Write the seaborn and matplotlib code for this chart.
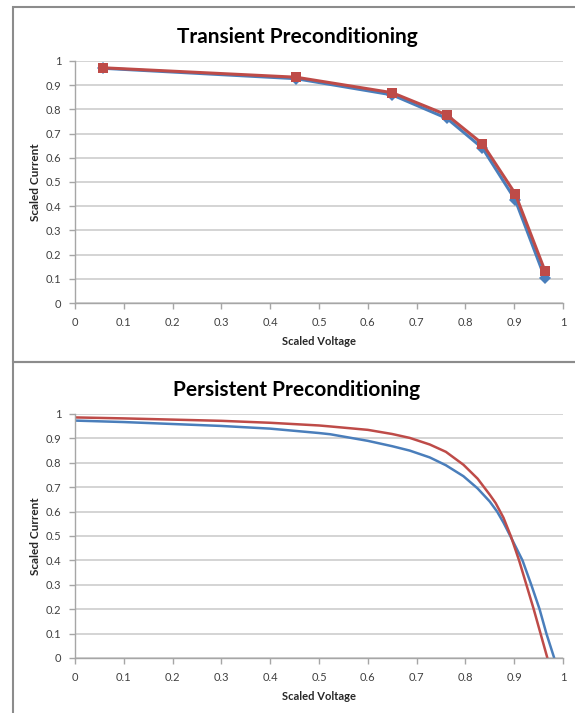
import numpy as np
import pandas as pd
import matplotlib
matplotlib.use("Agg")
import matplotlib.pyplot as plt
import seaborn as sns
from matplotlib.patches import Rectangle

# ---- data ----
trans_x = [0.057, 0.453, 0.650, 0.762, 0.835, 0.902, 0.963]
trans_blue = [0.970, 0.927, 0.860, 0.763, 0.640, 0.427, 0.103]
trans_red = [0.972, 0.933, 0.869, 0.777, 0.658, 0.452, 0.133]

pers_blue_x = [0.0, 0.1, 0.2, 0.3, 0.4, 0.5, 0.523, 0.6, 0.65, 0.686, 0.727,
               0.76, 0.796, 0.825, 0.85, 0.865, 0.878, 0.892, 0.917, 0.935,
               0.952, 0.966, 0.982]
pers_blue_y = [0.973, 0.967, 0.959, 0.951, 0.940, 0.922, 0.917, 0.890, 0.868,
               0.850, 0.822, 0.790, 0.745, 0.695, 0.641, 0.600, 0.555, 0.500,
               0.400, 0.300, 0.200, 0.100, 0.0]
pers_red_x = [0.0, 0.1, 0.2, 0.3, 0.4, 0.5, 0.523, 0.6, 0.65, 0.686, 0.727,
              0.76, 0.796, 0.825, 0.85, 0.862, 0.878, 0.893, 0.910, 0.925,
              0.940, 0.954, 0.968]
pers_red_y = [0.986, 0.982, 0.977, 0.972, 0.964, 0.953, 0.949, 0.935, 0.918,
              0.902, 0.875, 0.845, 0.792, 0.735, 0.669, 0.635, 0.575, 0.500,
              0.400, 0.300, 0.200, 0.100, 0.0]

ticks = [0, 0.1, 0.2, 0.3, 0.4, 0.5, 0.6, 0.7, 0.8, 0.9, 1]
tick_labels = ["0", "0.1", "0.2", "0.3", "0.4", "0.5", "0.6", "0.7", "0.8", "0.9", "1"]

BLUE = "#4A7EBB"
RED = "#BE4B48"

sns.set_theme(style="white")
plt.rcParams["font.family"] = ["Lato", "DejaVu Sans"]

fig = plt.figure(figsize=(5.75, 7.13), dpi=100)

# panel frames
fig.patches.append(Rectangle((13 / 575, 1 - 362 / 713), 1.0, (362 - 7) / 713,
                             transform=fig.transFigure, fill=False,
                             edgecolor="#8c8c8c", linewidth=1.5, zorder=0))
fig.patches.append(Rectangle((13 / 575, -0.01), 1.0, 1 - 362 / 713 + 0.01,
                             transform=fig.transFigure, fill=False,
                             edgecolor="#8c8c8c", linewidth=1.5, zorder=0))

ax1 = fig.add_axes([75 / 575, 1 - 303 / 713, (563 - 75) / 575, (303 - 61) / 713])
ax2 = fig.add_axes([75 / 575, 1 - 658 / 713, (563 - 75) / 575, (658 - 414) / 713])


def style(ax, title):
    ax.set_xlim(0, 1)
    ax.set_ylim(0, 1)
    ax.set_xticks(ticks)
    ax.set_xticklabels(tick_labels)
    ax.set_yticks(ticks)
    ax.set_yticklabels(tick_labels)
    ax.yaxis.grid(True, color="#d4d4d4", linewidth=1.4)
    ax.xaxis.grid(False)
    ax.set_axisbelow(True)
    for s in ["top", "right"]:
        ax.spines[s].set_visible(False)
    for s in ["left", "bottom"]:
        ax.spines[s].set_color("#a6a6a6")
        ax.spines[s].set_linewidth(1.0)
    ax.tick_params(axis="both", which="major", length=4, width=1.0,
                   color="#a6a6a6", labelsize=8, labelcolor="#404040",
                   direction="out", bottom=True, left=True, pad=6)
    ax.set_xlabel("Scaled Voltage", fontsize=8, fontweight="bold",
                  color="#262626", labelpad=6)
    ax.set_ylabel("Scaled Current", fontsize=8.5, fontweight="bold",
                  color="#262626", labelpad=3)
    ax.set_title(title, fontsize=15, fontweight="bold", color="black", pad=13,
                 x=0.455)
    leg = ax.get_legend()
    if leg is not None:
        leg.remove()


df_t = pd.DataFrame({"x": trans_x, "blue": trans_blue, "red": trans_red})
sns.lineplot(data=df_t, x="x", y="blue", ax=ax1, color=BLUE, linewidth=2.2,
             marker="D", markersize=6.5, markeredgewidth=0, sort=False)
sns.lineplot(data=df_t, x="x", y="red", ax=ax1, color=RED, linewidth=2.2,
             marker="s", markersize=7.5, markeredgewidth=0, sort=False)
style(ax1, "Transient Preconditioning")

df_b = pd.DataFrame({"x": pers_blue_x, "y": pers_blue_y})
df_r = pd.DataFrame({"x": pers_red_x, "y": pers_red_y})
sns.lineplot(data=df_b, x="x", y="y", ax=ax2, color=BLUE, linewidth=1.8, sort=False)
sns.lineplot(data=df_r, x="x", y="y", ax=ax2, color=RED, linewidth=1.8, sort=False)
style(ax2, "Persistent Preconditioning")

fig.savefig("out.png", dpi=100)
